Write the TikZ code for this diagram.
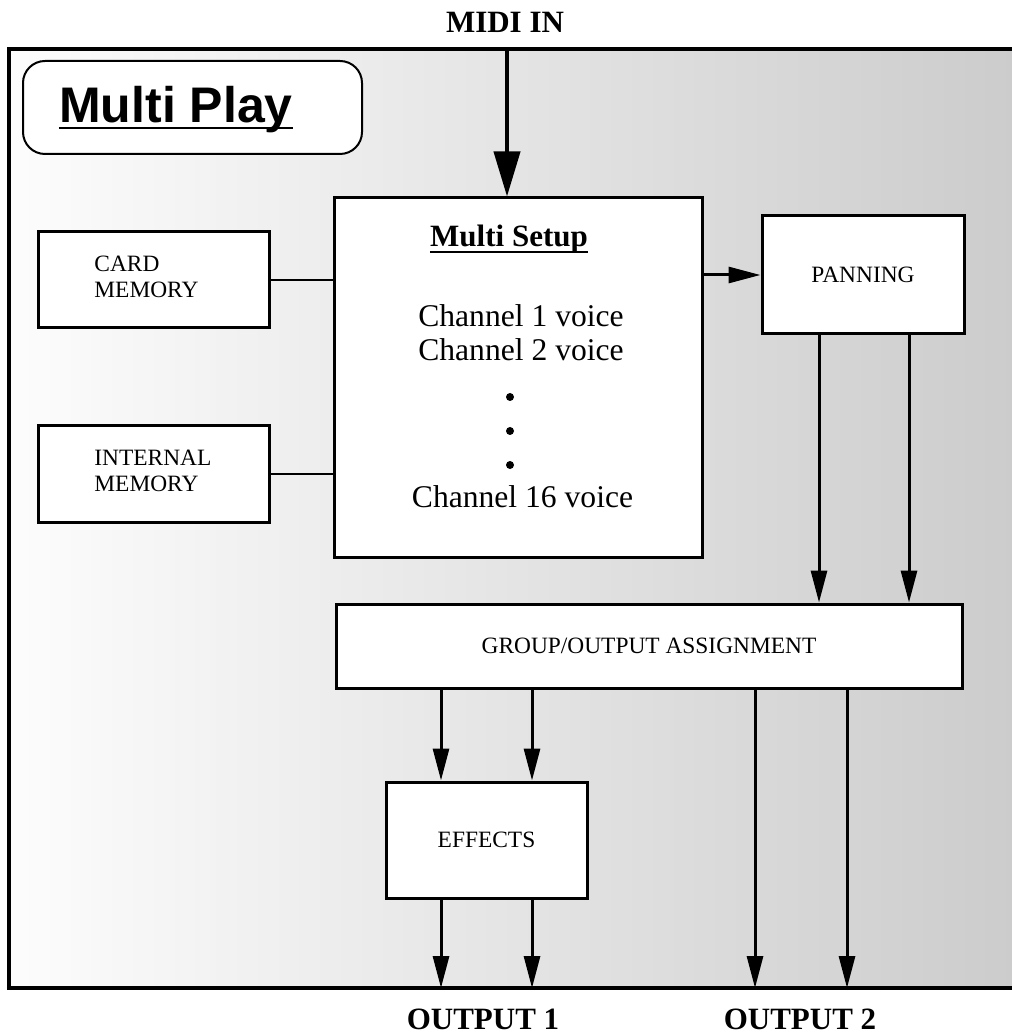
\documentclass[tikz,border=0pt]{standalone}
\usepackage{fontspec}
\setmainfont{Liberation Serif}
\newfontfamily\playfont{Liberation Sans}
\usetikzlibrary{arrows.meta,positioning}

\tikzset{
	block/.style = {draw, line width=1.5pt, fill=white, inner sep=0pt},
	smalltxt/.style = {font=\fontsize{11.7}{13}\selectfont, inner sep=0pt},
	boldtxt/.style = {font=\fontsize{15.5}{17}\selectfont\bfseries, inner sep=0pt},
	voicetxt/.style = {font=\fontsize{15.8}{17}\selectfont, inner sep=0pt, anchor=base},
	flow/.style = {line width=1.5pt, -{Triangle[length=16pt,width=8pt]}},
	link/.style = {line width=1.3pt}
}

\begin{document}
\begin{tikzpicture}[x=0.5pt, y=-0.5pt]
	\useasboundingbox (0,0) rectangle (1011,1036);
	% stippled frame
	\shade [left color=black!1, right color=black!20] (9,49) rectangle (1016,988);
	\draw [line width=1.75pt] (1016,49) -- (9,49) -- (9,988) -- (1016,988);

	% title
	\node [draw, line width=1pt, rounded corners=11pt, fill=white, minimum width=169.5pt, minimum height=46.5pt] (play) at (192.5,107.5) {};
	\node [font=\playfont\fontsize{25}{28}\selectfont\bfseries, inner sep=0pt, anchor=base] (playtitle) at (176,123) {Multi Play};
	\draw [line width=1.2pt] ([yshift=-2.5pt]playtitle.base west) -- ([yshift=-2.5pt]playtitle.base east);

	% boxes
	\node [block, minimum width=184pt, minimum height=179.5pt] (setup) at (518,377.5) {};
	\node [block, minimum width=115.5pt, minimum height=48pt] (card) at (153.5,280) {};
	\node [block, minimum width=115.5pt, minimum height=48pt] (internal) at (153.5,474) {};
	\node [block, minimum width=101pt, minimum height=59pt, smalltxt] (pan) at (863,275) {PANNING};
	\node [block, minimum width=313pt, minimum height=42pt, smalltxt] (group) at (649,646) {GROUP/OUTPUT ASSIGNMENT};
	\node [block, minimum width=100.5pt, minimum height=58pt, smalltxt] (fx) at (486.5,840) {EFFECTS};

	\node [smalltxt, align=left, anchor=west] (cardtxt) at (94,277) {CARD\\MEMORY};
	\node [smalltxt, align=left, anchor=west] (internaltxt) at (94,471) {INTERNAL\\MEMORY};

	% multi setup contents
	\node [boldtxt, anchor=base] (setuptitle) at (509,247) {Multi Setup};
	\draw [line width=1pt] ([yshift=-2.5pt]setuptitle.base west) -- ([yshift=-2.5pt]setuptitle.base east);
	\node [voicetxt] (ch1) at (521,327) {Channel 1 voice};
	\node [voicetxt] (ch2) at (521,361) {Channel 2 voice};
	\node [voicetxt] (ch16) at (522.5,507) {Channel 16 voice};
	\foreach \y in {397,431,465}{
	\fill (510,\y) circle (2pt);
	}

	% inputs and outputs
	\node [boldtxt, anchor=base] (midi) at (505,33) {MIDI IN};
	\node [boldtxt, anchor=base] (output1) at (483,1029) {OUTPUT 1};
	\node [boldtxt, anchor=base] (output2) at (800,1029) {OUTPUT 2};
	\coordinate (midiin) at (507,49);
	\coordinate (out1) at (486.5,988);
	\coordinate (out2) at (801,988);

	% connectors
	\draw [line width=2pt, -{Triangle[length=22.5pt,width=13pt]}] (midiin) -- (midiin |- setup.north);
	\draw [link] (card.east) -- (card.east -| setup.west);
	\draw [link] (internal.east) -- (internal.east -| setup.west);
	\draw [flow] (setup.east |- pan.west) -- (pan.west);
	\foreach \dx in {-22pt,23pt}{
	\draw [flow] ([xshift=\dx]pan.south) -- ([xshift=\dx]pan.south |- group.north);
	}
	\foreach \dx in {-22.75pt,22.75pt}{
	\draw [flow] ([xshift=\dx]fx.north |- group.south) -- ([xshift=\dx]fx.north);
	\draw [flow] ([xshift=\dx]fx.south) -- ([xshift=\dx]out1);
	}
	\foreach \dx in {-23pt,23pt}{
	\draw [flow] ([xshift=\dx]out2 |- group.south) -- ([xshift=\dx]out2);
	}
\end{tikzpicture}
\end{document}
